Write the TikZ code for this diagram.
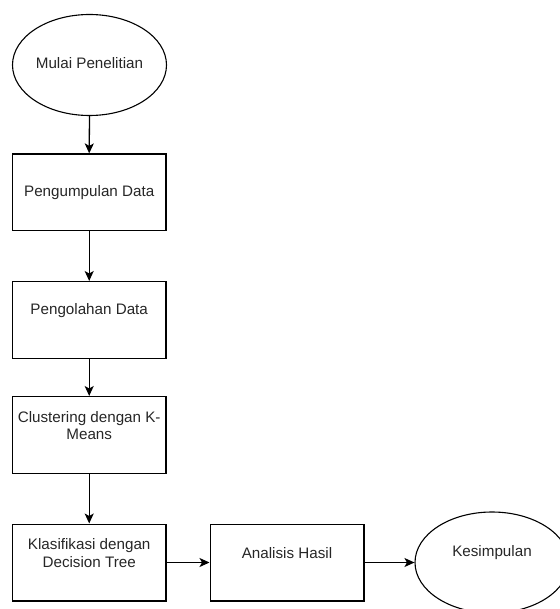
\documentclass[tikz,border=0pt]{standalone}
\usepackage{fontspec}
\setmainfont{Liberation Sans}
\usetikzlibrary{shapes.geometric,arrows.meta}
\begin{document}
\begin{tikzpicture}[x=1pt,y=-1pt,
  stepbox/.style={draw=black,line width=1.3pt,rectangle,minimum width=153.7pt,minimum height=76.7pt,inner sep=0pt},
  oval/.style={draw=black,line width=1.1pt,ellipse,minimum width=154pt,minimum height=101pt,inner sep=0pt},
  txt/.style={font=\fontsize{15.2}{17.6}\selectfont,text=black!85,align=center,inner sep=0pt},
  flow/.style={line width=1.3pt,-{Stealth[length=10pt,width=9pt,inset=2.5pt]}}]
\useasboundingbox (0,0) rectangle (559,609);
% shapes
\node[oval] (e1) at (89.5,65) {};
\node[stepbox] (b1) at (89.2,192.4) {};
\node[stepbox] (b2) at (89.2,320) {};
\node[stepbox] (b3) at (89.2,435) {};
\node[stepbox] (b4) at (89.2,562.5) {};
\node[stepbox] (b5) at (287,562.5) {};
\node[oval] (e2) at (492,562.5) {};
% texts
\node[txt] (t1) at (89.5,63) {Mulai Penelitian};
\node[txt] (t2) at (89.2,192.4) {Pengumpulan Data};
\node[txt] (t3) at (89.2,311) {Pengolahan Data};
\node[txt] (t4) at (89.2,425.5) {Clustering dengan K-\\Means};
\node[txt] (t5) at (89.2,553) {Klasifikasi dengan\\Decision Tree};
\node[txt] (t6) at (287,553) {Analisis Hasil};
\node[txt] (t7) at (492,553) {Kesimpulan};
% connectors
\draw[flow] (e1.south) -- (b1.north);
\draw[flow] (b1.south) -- (b2.north);
\draw[flow] (b2.south) -- (b3.north);
\draw[flow] (b3.south) -- (b4.north);
\draw[flow] (b4.east) -- (b5.west);
\draw[flow] (b5.east) -- (e2.west);
\end{tikzpicture}
\end{document}
